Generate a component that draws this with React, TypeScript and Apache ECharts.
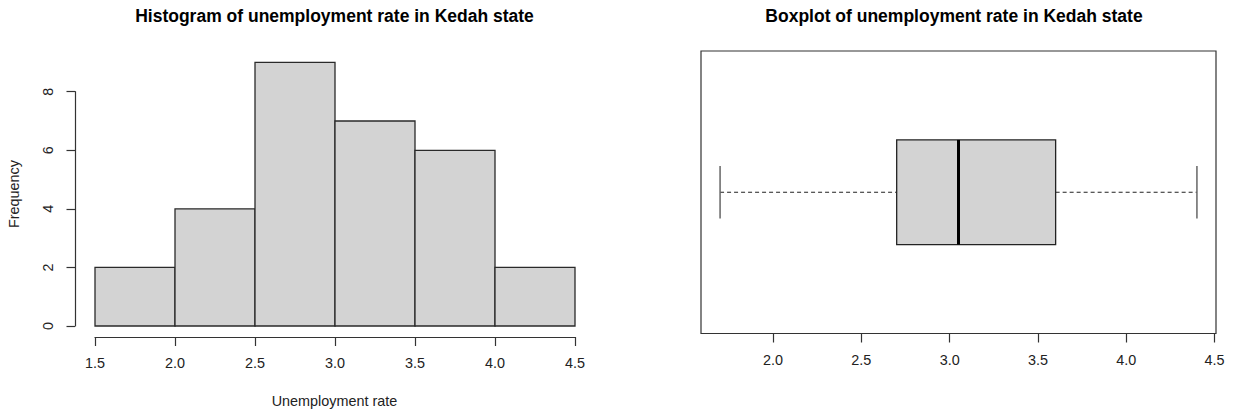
import React, { useEffect, useRef } from "react";
import * as echarts from "echarts";

// ---- data ----
const binEdges = [1.5, 2.0, 2.5, 3.0, 3.5, 4.0, 4.5];
const binCounts = [2, 4, 9, 7, 6, 2];
const histXTicks = [1.5, 2.0, 2.5, 3.0, 3.5, 4.0, 4.5];
const histYTicks = [0, 2, 4, 6, 8];
// boxplot five-number summary: min, Q1, median, Q3, max
const boxStats = [1.7, 2.7, 3.05, 3.6, 4.4];
const boxXTicks = [2.0, 2.5, 3.0, 3.5, 4.0, 4.5];

const histTitle = "Histogram of unemployment rate in Kedah state";
const boxTitle = "Boxplot of unemployment rate in Kedah state";
const histXName = "Unemployment rate";
const histYName = "Frequency";

const FONT = "'Liberation Sans', Arial, sans-serif";
const INK = "#222";

export default function App() {
  const ref = useRef<HTMLDivElement>(null);

  useEffect(() => {
    if (!ref.current) return;
    const chart = echarts.init(ref.current, null, { renderer: "svg" });

    const histData = binCounts.map((c, i) => [binEdges[i], binEdges[i + 1], c]);
    const boxData = [[...boxStats, 1]];

    const option: any = {
      animation: false,
      backgroundColor: "#fff",
      textStyle: { fontFamily: FONT },
      grid: [
        { left: 95, width: 480, top: 91.7, height: 234.3, show: false },
        {
          left: 701,
          width: 515,
          top: 51,
          height: 282.5,
          show: true,
          borderColor: "#333",
          borderWidth: 1.2,
          backgroundColor: "transparent",
        },
      ],
      xAxis: [
        {
          type: "value",
          gridIndex: 0,
          min: 1.5,
          max: 4.5,
          interval: 0.5,
          offset: 11,
          splitLine: { show: false },
          axisLine: { show: true, onZero: false, lineStyle: { color: "#333", width: 1.2 } },
          axisTick: { show: true, inside: false, length: 9, lineStyle: { color: "#333", width: 1.2 } },
          axisLabel: {
            customValues: histXTicks,
            formatter: (v: number) => v.toFixed(1),
            margin: 19,
            fontSize: 14.4,
            color: INK,
            fontFamily: FONT,
          },
        },
        {
          type: "value",
          gridIndex: 1,
          min: 1.592,
          max: 4.508,
          splitLine: { show: false },
          axisLine: { show: false, onZero: false },
          axisTick: {
            show: true,
            customValues: boxXTicks,
            inside: false,
            length: 9,
            lineStyle: { color: "#333", width: 1.2 },
          },
          axisLabel: {
            customValues: boxXTicks,
            formatter: (v: number) => v.toFixed(1),
            margin: 19,
            fontSize: 14.4,
            color: INK,
            fontFamily: FONT,
          },
        },
      ],
      yAxis: [
        {
          type: "value",
          gridIndex: 0,
          min: 0,
          max: 8,
          interval: 2,
          offset: 20,
          splitLine: { show: false },
          axisLine: { show: true, onZero: false, lineStyle: { color: "#333", width: 1.2 } },
          axisTick: { show: true, inside: false, length: 8.5, lineStyle: { color: "#333", width: 1.2 } },
          axisLabel: {
            customValues: histYTicks,
            rotate: 90,
            align: "center",
            verticalAlign: "middle",
            margin: 27,
            fontSize: 14.4,
            color: INK,
            fontFamily: FONT,
          },
        },
        {
          type: "value",
          gridIndex: 1,
          min: 0.46,
          max: 1.54,
          show: false,
        },
      ],
      graphic: [
        {
          type: "text",
          x: 334.5,
          y: 16,
          style: {
            text: histTitle,
            fontSize: 17.5,
            fontWeight: "bold",
            fontFamily: FONT,
            fill: "#000",
            textAlign: "center",
            textVerticalAlign: "middle",
          },
        },
        {
          type: "text",
          x: 954,
          y: 16,
          style: {
            text: boxTitle,
            fontSize: 17.5,
            fontWeight: "bold",
            fontFamily: FONT,
            fill: "#000",
            textAlign: "center",
            textVerticalAlign: "middle",
          },
        },
        {
          type: "text",
          x: 334.5,
          y: 401,
          style: {
            text: histXName,
            fontSize: 14.4,
            fontFamily: FONT,
            fill: INK,
            textAlign: "center",
            textVerticalAlign: "middle",
          },
        },
        {
          type: "text",
          x: 13.5,
          y: 194,
          rotation: Math.PI / 2,
          style: {
            text: histYName,
            fontSize: 14.4,
            fontFamily: FONT,
            fill: INK,
            textAlign: "center",
            textVerticalAlign: "middle",
          },
        },
      ],
      series: [
        {
          type: "custom",
          xAxisIndex: 0,
          yAxisIndex: 0,
          clip: false,
          data: histData,
          encode: { x: [0, 1], y: 2 },
          renderItem: (params: any, api: any) => {
            const p0 = api.coord([api.value(0), api.value(2)]);
            const p1 = api.coord([api.value(1), 0]);
            return {
              type: "rect",
              shape: { x: p0[0], y: p0[1], width: p1[0] - p0[0], height: p1[1] - p0[1] },
              style: { fill: "#d3d3d3", stroke: "#2a2a2a", lineWidth: 1.3 },
            };
          },
        },
        {
          type: "custom",
          xAxisIndex: 1,
          yAxisIndex: 1,
          clip: false,
          data: boxData,
          encode: { x: [0, 1, 2, 3, 4], y: 5 },
          renderItem: (params: any, api: any) => {
            const lo = api.value(0);
            const q1 = api.value(1);
            const med = api.value(2);
            const q3 = api.value(3);
            const hi = api.value(4);
            const c = api.value(5);
            const half = 0.2;
            const staple = 0.1;
            const a = api.coord([lo, c]);
            const b = api.coord([q1, c]);
            const d = api.coord([q3, c]);
            const e = api.coord([hi, c]);
            const boxTL = api.coord([q1, c + half]);
            const boxBR = api.coord([q3, c - half]);
            const mTop = api.coord([med, c + half]);
            const mBot = api.coord([med, c - half]);
            const loTop = api.coord([lo, c + staple]);
            const loBot = api.coord([lo, c - staple]);
            const hiTop = api.coord([hi, c + staple]);
            const hiBot = api.coord([hi, c - staple]);
            const dash = { stroke: "#222", lineWidth: 1.1, lineDash: [4, 3] };
            const solid = { stroke: "#666", lineWidth: 1.5 };
            return {
              type: "group",
              children: [
                { type: "line", shape: { x1: a[0], y1: a[1], x2: b[0], y2: b[1] }, style: dash },
                { type: "line", shape: { x1: d[0], y1: d[1], x2: e[0], y2: e[1] }, style: dash },
                { type: "line", shape: { x1: loTop[0], y1: loTop[1], x2: loBot[0], y2: loBot[1] }, style: solid },
                { type: "line", shape: { x1: hiTop[0], y1: hiTop[1], x2: hiBot[0], y2: hiBot[1] }, style: solid },
                {
                  type: "rect",
                  shape: {
                    x: boxTL[0],
                    y: boxTL[1],
                    width: boxBR[0] - boxTL[0],
                    height: boxBR[1] - boxTL[1],
                  },
                  style: { fill: "#d3d3d3", stroke: "#222", lineWidth: 1.3 },
                },
                {
                  type: "line",
                  shape: { x1: mTop[0], y1: mTop[1], x2: mBot[0], y2: mBot[1] },
                  style: { stroke: "#000", lineWidth: 3 },
                },
              ],
            };
          },
        },
      ],
    };

    chart.setOption(option);
    return () => chart.dispose();
  }, []);

  return (
    <div
      ref={ref}
      style={{ position: "fixed", left: 0, top: 0, width: 1233, height: 411, background: "#fff" }}
    />
  );
}
